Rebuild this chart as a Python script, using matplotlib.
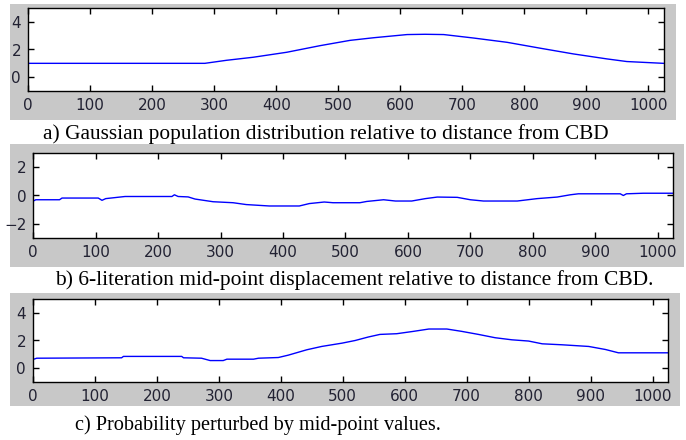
import matplotlib
matplotlib.use("Agg")
from matplotlib import pyplot as plt
from matplotlib.patches import Rectangle

# a) gaussian population distribution
xa = [0, 285, 320, 363, 417, 471, 519, 557, 611, 640, 670, 718, 772, 826, 879, 933, 965, 1024]
ya = [1.0, 1.0, 1.22, 1.44, 1.8, 2.28, 2.66, 2.85, 3.08, 3.1, 3.08, 2.83, 2.52, 2.09, 1.68, 1.32, 1.13, 1.0]

# b) mid-point displacement
xb = [0, 4, 42, 46, 104, 110, 116, 147, 222, 226, 232, 248, 259, 288, 320, 341, 378, 426, 442,
      466, 480, 523, 534, 561, 580, 606, 628, 647, 679, 700, 721, 775, 807, 839, 860, 873, 940,
      945, 950, 977, 1024]
yb = [-0.39, -0.3, -0.3, -0.18, -0.18, -0.34, -0.22, -0.07, -0.07, 0.05, -0.07, -0.1, -0.25,
      -0.44, -0.51, -0.64, -0.74, -0.74, -0.57, -0.46, -0.51, -0.51, -0.42, -0.3, -0.39, -0.39,
      -0.22, -0.11, -0.13, -0.3, -0.39, -0.39, -0.22, -0.11, 0.05, 0.12, 0.12, 0.0, 0.12, 0.16, 0.16]

# c) perturbed probability
xc = [0, 6, 143, 146, 240, 243, 272, 286, 307, 313, 356, 364, 396, 412, 442, 466, 499, 520,
      541, 560, 587, 614, 639, 668, 692, 719, 746, 773, 800, 822, 854, 897, 924, 945, 1024]
yc = [0.63, 0.72, 0.75, 0.85, 0.85, 0.75, 0.72, 0.55, 0.55, 0.65, 0.65, 0.72, 0.77, 0.94, 1.33,
      1.57, 1.81, 2.0, 2.25, 2.44, 2.49, 2.66, 2.83, 2.83, 2.66, 2.44, 2.2, 2.05, 1.96, 1.76,
      1.69, 1.57, 1.35, 1.11, 1.11]

captions = ["a) Gaussian population distribution relative to distance from CBD",
            "b) 6-literation mid-point displacement relative to distance from CBD.",
            "c) Probability perturbed by mid-point values."]

W, H = 686, 440
fig = plt.figure(figsize=(W / 100, H / 100), dpi=100)
fig.patch.set_facecolor("white")


def box(l, t, r, b):
    return [l / W, 1 - b / H, (r - l) / W, (b - t) / H]


# grey panel backgrounds (pixel boxes), kept behind the axes
for l, t, r, b in [(10, 4, 676, 120), (10, 144, 684, 267), (10, 293, 680, 406)]:
    fig.patches.append(Rectangle((l / W, 1 - b / H), (r - l) / W, (b - t) / H,
                                 transform=fig.transFigure, facecolor="#c8c8c8",
                                 edgecolor="none", zorder=-10))

panels = [
    (box(28, 8, 664, 91), xa, ya, (-1, 5), [0, 2, 4]),
    (box(33.3, 153, 673.3, 238), xb, yb, (-3, 3), [-2, 0, 2]),
    (box(33, 299, 668, 382), xc, yc, (-1, 5), [0, 2, 4]),
]

for rect, x, y, lim, yt in panels:
    ax = fig.add_axes(rect)
    ax.plot(x, y, color="#0000ff", lw=1.0)
    ax.set_xlim(0, 1025)
    ax.set_ylim(*lim)
    ax.set_xticks(range(0, 1001, 100))
    ax.set_yticks(yt)
    ax.tick_params(direction="in", top=True, right=True, length=4, width=1,
                   labelsize=11, labelcolor="#222233", pad=5)
    for s in ax.spines.values():
        s.set_linewidth(1.0)
        s.set_color("black")

cap_pos = [(43, 139.5, 15.4), (55, 285, 15.5), (75, 430, 14.6)]
for (cx, cy, fs), txt in zip(cap_pos, captions):
    fig.text(cx / W, 1 - cy / H, txt, family="Liberation Serif", fontsize=fs,
             ha="left", va="baseline", color="black")

fig.savefig("out.png", dpi=100)
